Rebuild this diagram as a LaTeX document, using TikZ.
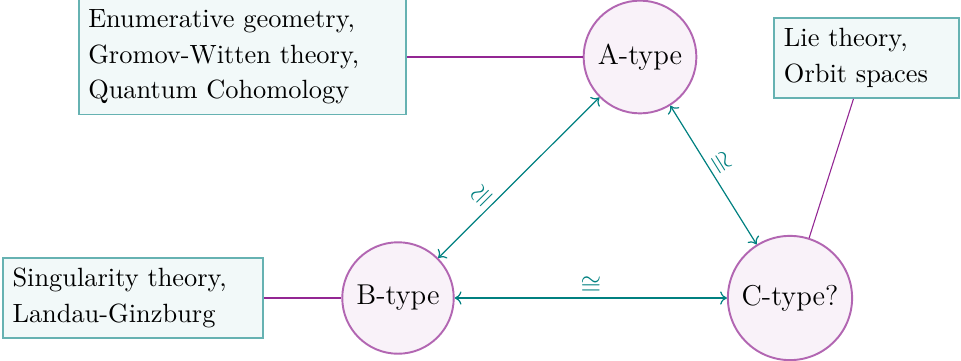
\RequirePackage{fix-cm}
\documentclass[tikz,border=0pt]{standalone}
\usetikzlibrary{arrows.meta}
\begin{document}
\begin{tikzpicture}[x=0.415pt,y=-0.415pt,
  circ/.style={circle, draw=violet!60, fill=violet!5, line width=0.8pt, inner sep=4pt,
    font=\fontsize{11.9}{14}\selectfont},
  infobox/.style={rectangle, draw=teal!60, fill=teal!5, line width=0.8pt,
    inner xsep=4pt, inner ysep=4pt, align=left,
    font=\fontsize{10.95}{14.7}\selectfont},
  link/.style={draw=violet!85, line width=0.45pt},
  iso/.style={{To[length=2.8pt,width=5.5pt]}-{To[length=2.8pt,width=5.5pt]}, draw=teal, line width=0.5pt},
  isolab/.style={text=teal, font=\fontsize{11}{13}\selectfont, inner sep=1pt}]
\useasboundingbox (0,0) rectangle (961,360);
\node[circ] (A) at (640,57) {A-type};
\node[circ] (B) at (398,298) {B-type};
\node[circ] (C) at (790,298) {C-type?};
\node[infobox, text width=128pt, minimum height=47.7pt] (enum) at (242.5,57)
  {Enumerative geometry,\\Gromov-Witten theory,\\Quantum Cohomology};
\node[infobox, text width=100pt, minimum height=33.2pt] (sing) at (133,298)
  {Singularity theory,\\Landau-Ginzburg};
\node[infobox, text width=68.5pt, minimum height=33.2pt] (lie) at (866.5,58)
  {Lie theory,\\Orbit spaces};
\draw[link] (enum) -- (A);
\draw[link] (sing) -- (B);
\draw[link] (lie) -- (C);
\draw[iso] (B) -- node[isolab, sloped, above, pos=0.33] {$\cong$} (A);
\draw[iso] (A) -- node[isolab, sloped, above, pos=0.46] {$\cong$} (C);
\draw[iso] (B) -- node[isolab, above] {$\cong$} (C);
\end{tikzpicture}
\end{document}
